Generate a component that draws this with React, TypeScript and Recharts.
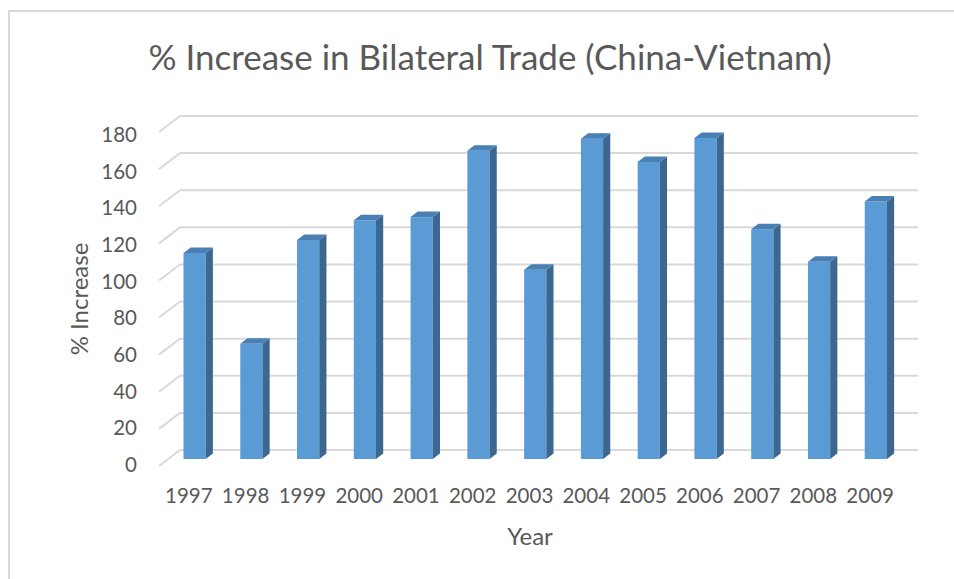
import React from 'react';
import { BarChart, Bar, XAxis, YAxis, CartesianGrid } from 'recharts';

const years = ['1997', '1998', '1999', '2000', '2001', '2002', '2003', '2004', '2005', '2006', '2007', '2008', '2009'];
const increase = [112, 63, 119, 129.6, 131.3, 167, 103, 173.6, 161, 174, 124.8, 107.2, 139.7];
const yTicks = [0, 20, 40, 60, 80, 100, 120, 140, 160, 180];

const data = years.map((year, i) => ({ year, value: increase[i] }));

const FONT = 'Lato, "Open Sans", sans-serif';
const TEXT = '#595959';
const GRID = '#d9d9d9';
// depth offsets for the fake 3D look
const DX = 10.5;
const DY = 8;

const GridLine = (props: any) => {
  const { x1, y1, x2 } = props;
  return (
    <g key={props.key}>
      <line x1={x1 - DX} y1={y1 + DY} x2={x1 + DX} y2={y1 - DY} stroke={GRID} strokeWidth={2} />
      <line x1={x1 + DX} y1={y1 - DY} x2={x2 + DX} y2={y1 - DY} stroke={GRID} strokeWidth={2} />
    </g>
  );
};

const Bar3D = (props: any) => {
  const { x, y, width, height } = props;
  const depth = 7.2;
  const rise = 5.5;
  const fw = width - depth;
  const top = y + rise / 2;
  const bottom = y + height + 1;
  return (
    <g>
      <rect x={x} y={top} width={fw} height={bottom - top} fill="#5b9bd5" />
      <polygon
        points={`${x + fw},${top} ${x + width},${top - rise} ${x + width},${bottom - rise} ${x + fw},${bottom}`}
        fill="#3c6790"
      />
      <polygon
        points={`${x},${top} ${x + depth},${top - rise} ${x + width},${top - rise} ${x + fw},${top}`}
        fill="#4a7fb3"
      />
    </g>
  );
};

const YTick = (props: any) => {
  const { y, payload } = props;
  const ly = 464 - (458 - y) * (330 / 334);
  return (
    <text x={137} y={ly} textAnchor="end" dominantBaseline="central" fill={TEXT} fontSize={20.5} fontFamily={FONT}>
      {payload.value}
    </text>
  );
};

const XTick = (props: any) => {
  const { x, payload } = props;
  return (
    <text x={x - 9} y={495} textAnchor="middle" dominantBaseline="central" fill={TEXT} fontSize={20.5} fontFamily={FONT}>
      {payload.value}
    </text>
  );
};

export default function App() {
  return (
    <div style={{ position: 'absolute', left: 0, top: 0, width: 954, height: 579, overflow: 'hidden', background: '#fff' }}>
      <div
        style={{
          position: 'absolute',
          left: 8,
          top: 10,
          width: 1000,
          height: 700,
          border: '2px solid #d9d9d9',
          boxSizing: 'border-box',
        }}
      />
      <div style={{ position: 'absolute', left: 0, top: 0 }}>
        <BarChart
          width={954}
          height={579}
          data={data}
          margin={{ top: 124, right: 46.5, bottom: 61, left: 109.5 }}
          barSize={29.4}
        >
          <CartesianGrid vertical={false} horizontal={GridLine} />
          <XAxis dataKey="year" axisLine={false} tickLine={false} height={60} tick={XTick} interval={0} />
          <YAxis
            domain={[0, 180]}
            ticks={yTicks}
            axisLine={false}
            tickLine={false}
            width={60}
            tick={YTick}
            interval={0}
          />
          <Bar dataKey="value" shape={Bar3D} isAnimationActive={false} />
          <text x={490} y={56} textAnchor="middle" dominantBaseline="central" fill={TEXT} fontSize={35} fontFamily={FONT}>
            % Increase in Bilateral Trade (China-Vietnam)
          </text>
          <text
            x={78}
            y={299}
            textAnchor="middle"
            dominantBaseline="central"
            fill={TEXT}
            fontSize={24}
            fontFamily={FONT}
            transform="rotate(-90 78 299)"
          >
            % Increase
          </text>
          <text x={530} y={535} textAnchor="middle" dominantBaseline="central" fill={TEXT} fontSize={24} fontFamily={FONT}>
            Year
          </text>
        </BarChart>
      </div>
    </div>
  );
}
